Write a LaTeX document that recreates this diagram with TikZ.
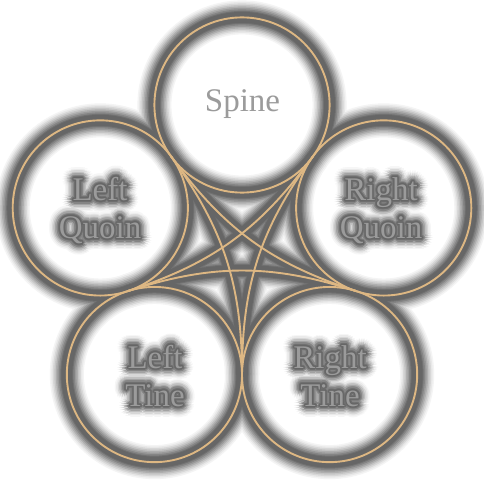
\documentclass[tikz,border=0pt]{standalone}
\usepackage{fontspec}
\setmainfont{Liberation Serif}
\usetikzlibrary{calc}
\definecolor{dark}{RGB}{102,102,102}
\definecolor{ringtan}{RGB}{221,183,131}
\definecolor{txt}{RGB}{155,155,155}
\newcommand\glowlabel[3]{%
  \foreach \rr/\cc/\nn in {11/6/28, 9.5/14/28, 8/26/24, 6.5/42/24, 5/60/20, 3.5/80/16, 2/95/12, 1/100/8}{%
    \foreach \aa in {1,...,\nn}{%
      \node[lbl, text=dark!\cc] at ($(#2)+({\aa*360/\nn}:\rr)$) {#3};
    }%
  }%
  \node[lbl] (#1) at (#2) {#3};
}
\begin{document}
\begin{tikzpicture}[x=1pt,y=1pt,
  lbl/.style={font=\fontsize{33}{38}\selectfont, align=center, inner sep=0pt, text=txt},
  ring/.style={draw=ringtan, line width=1.9pt}]
\useasboundingbox (0,0) rectangle (484,480);
\fill[white] (0,0) rectangle (484,480);
\coordinate (O) at (242,226);
\foreach \n/\a in {spine/90, lq/162, lt/234, rt/306, rq/18}
  \coordinate (\n) at ($(O)+(\a:149)$);
\foreach \n/\a in {t0/126, t1/198, t2/270, t3/342, t4/54}
  \coordinate (\n) at ($(O)+(\a:120.55)$);
% soft grey halos
\foreach \w/\c in {34/7, 31/15, 28/26, 25/38, 22/52, 19/66, 16/80, 13/92, 11/100}{
  \foreach \n in {spine,lq,lt,rt,rq}
    \draw[line width=\w pt, draw=dark!\c] (\n) circle[radius=87.6];
  \foreach \p/\q in {t0/t2, t1/t3, t2/t4, t3/t0, t4/t1}
    \draw[line width=\w pt, draw=dark!\c] (\p) to[bend left=18] (\q);
}
% tan rings and star
\foreach \n in {spine,lq,lt,rt,rq}
  \draw[ring] (\n) circle[radius=87.6];
\foreach \p/\q in {t0/t2, t1/t3, t2/t4, t3/t0, t4/t1}
  \draw[ring] (\p) to[bend left=18] (\q);
% labels
\node[lbl, anchor=base] (spinetext) at (242.5,368) {Spine};
\coordinate (lqc) at (100,269.25);
\coordinate (rqc) at (381,269.25);
\coordinate (ltc) at (155,104.25);
\coordinate (rtc) at (330,104.25);
\glowlabel{lqtext}{lqc}{Left\\Quoin}
\glowlabel{rqtext}{rqc}{Right\\Quoin}
\glowlabel{lttext}{ltc}{Left\\Tine}
\glowlabel{rttext}{rtc}{Right\\Tine}
\end{tikzpicture}
\end{document}
